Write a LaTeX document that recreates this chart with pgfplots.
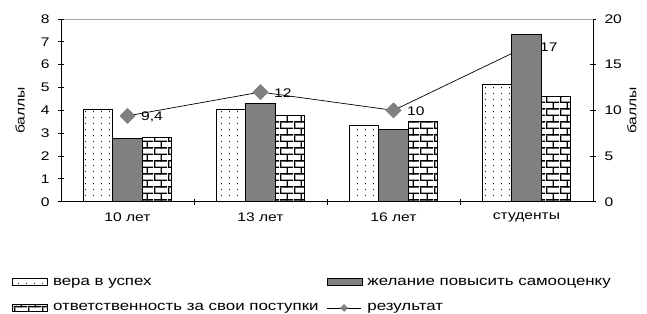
\documentclass[border=0pt]{standalone}
\usepackage{fontspec}
\setmainfont{Liberation Sans}[FakeStretch=1.25]
\usepackage{pgfplots}
\pgfplotsset{compat=1.18}
\usetikzlibrary{patterns.meta}

\tikzdeclarepattern{
  name=sparsedots,
  type=uncolored,
  bottom left={(0pt,0pt)},
  top right={(7.5pt,5.5pt)},
  tile size={(7.5pt,5.5pt)},
  code={\fill (3.75pt,2.75pt) circle (0.6pt);}
}
\tikzdeclarepattern{
  name=bigbricks,
  type=uncolored,
  bottom left={(0pt,0pt)},
  top right={(14pt,13.4pt)},
  tile size={(14pt,13.4pt)},
  code={
    \fill (0pt,0pt) rectangle (14pt,1.4pt);
    \fill (0pt,6.7pt) rectangle (14pt,8.1pt);
    \fill (0pt,0pt) rectangle (1.4pt,6.7pt);
    \fill (7pt,6.7pt) rectangle (8.4pt,13.4pt);
  }
}

\pgfplotsset{
  mybox/.style={legend image code/.code={\draw[##1] (0pt,-3.5pt) rectangle (35pt,3.5pt);}},
}

\begin{document}
\begin{tikzpicture}[font=\fontsize{12.5}{15}\selectfont]
% secondary axis: line (drawn first so that bars cover it)
\begin{axis}[
  scale only axis, width=532pt, height=182.7pt,
  xmin=-0.5, xmax=3.5, ymin=0, ymax=20,
  axis y line*=right, axis x line*=top,
  x axis line style={gray!70, line width=0.8pt},
  y axis line style={black, line width=0.8pt},
  xtick=\empty, ytick={0,5,10,15,20},
  tick align=center, major tick length=6pt,
  tick style={black, line width=0.8pt},
  /pgf/number format/assume math mode=true,
  /pgf/number format/use comma,
  yticklabel style={anchor=west, xshift=5pt},
  ylabel={баллы},
  ylabel style={at={(axis description cs:1.073,0.5)}, anchor=center},
  clip=false,
]
\addplot[black, line width=0.7pt, mark=square*, mark size=5.3pt,
  mark options={rotate=45, fill=gray, draw=gray},
  nodes near coords, point meta=y,
  every node near coord/.style={anchor=west, xshift=10pt, yshift=-1pt, font=\fontsize{12.5}{15}\selectfont, black}]
  coordinates {(0,9.4) (1,12) (2,10) (3,17)};
\end{axis}
% primary axis: bars
\begin{axis}[
  scale only axis, width=532pt, height=182.7pt,
  xmin=-0.5, xmax=3.5, ymin=0, ymax=8,
  ybar=0pt, bar width=29.5pt,
  axis x line*=bottom, axis y line*=left,
  axis line style={black, line width=0.8pt},
  xtick={0.5,1.5,2.5}, xticklabels={},
  extra x ticks={0,1,2,3},
  extra x tick labels={10 лет,13 лет,16 лет,студенты},
  extra x tick style={major tick length=0pt, tick style={draw=none}},
  ytick={0,1,...,8},
  tick align=center, major tick length=6pt,
  tick style={black, line width=0.8pt},
  /pgf/number format/assume math mode=true,
  yticklabel style={anchor=east, xshift=-5pt},
  xticklabel style={yshift=-8pt},
  ylabel={баллы},
  ylabel style={at={(axis description cs:-0.077,0.5)}, anchor=center},
  legend columns=2,
  legend style={at={(axis description cs:-0.0921,-0.41)}, anchor=north west,
    draw=none, fill=none, inner xsep=0pt, inner ysep=0pt,
    font=\fontsize{13.5}{15}\selectfont,
    nodes={inner sep=1pt},
    row sep=15pt,
    /tikz/every odd column/.append style={column sep=4pt},
    /tikz/every even column/.append style={column sep=7pt}},
  legend cell align=left,
]
\addplot[draw=black, line width=0.8pt, fill=white, postaction={pattern=sparsedots}, mybox]
  coordinates {(0,4.05) (1,4.05) (2,3.33) (3,5.12)};
\addplot[draw=black, line width=0.8pt, fill=gray, mybox]
  coordinates {(0,2.78) (1,4.3) (2,3.17) (3,7.34)};
\addplot[draw=black, line width=0.8pt, fill=white, postaction={pattern=bigbricks}, mybox]
  coordinates {(0,2.8) (1,3.76) (2,3.5) (3,4.6)};
\addlegendimage{legend image code/.code={
  \draw[black, line width=0.7pt] (0pt,0pt) -- (34pt,0pt);
  \fill[gray] (17pt,3.5pt) -- (20.5pt,0pt) -- (17pt,-3.5pt) -- (13.5pt,0pt) -- cycle;}}
\legend{вера в успех, желание повысить самооценку, ответственность за свои поступки, результат}
\end{axis}
\path (-61pt,-111.3pt) rectangle (586pt,201.7pt);
\end{tikzpicture}
\end{document}
